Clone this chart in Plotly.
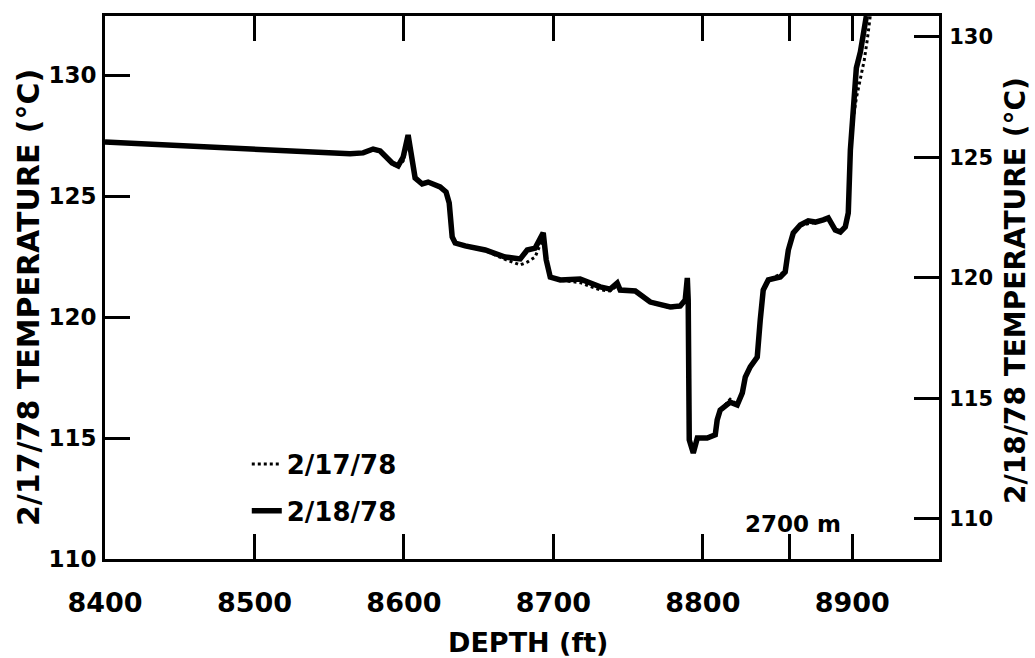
import plotly.graph_objects as go

# Depth ticks (ft); the extra tick marks 2700 m (= 8858.3 ft)
x_tick_vals = [8400, 8500, 8600, 8700, 8800, 8900]
x_tick_text = ["8400", "8500", "8600", "8700", "8800", "8900"]
metric_tick_ft = 8858.3
y_tick_vals = [110, 115, 120, 125, 130]

# 2/17/78 log (left axis, °C)
depth_0217 = [
    8400.0, 8485.7, 8564.0, 8572.7, 8579.4, 8584.1, 8592.1, 8596.1, 8599.5, 8602.8,
    8605.5, 8607.5, 8612.2, 8616.2, 8624.2, 8628.2, 8630.3, 8632.3, 8634.3, 8641.0,
    8654.4, 8667.7, 8677.8, 8682.5, 8687.8, 8693.2, 8695.2, 8697.9, 8704.6, 8717.9,
    8731.3, 8738.0, 8742.7, 8744.7, 8754.8, 8764.8, 8778.2, 8784.9, 8788.2, 8789.6,
    8790.2, 8790.9, 8793.6, 8796.3, 8802.9, 8808.3, 8809.6, 8811.6, 8818.3, 8823.0,
    8826.4, 8828.4, 8831.7, 8836.4, 8838.4, 8840.4, 8843.8, 8851.8, 8855.1, 8857.2,
    8860.5, 8865.2, 8870.5, 8875.2, 8880.6, 8883.9, 8888.6, 8892.0, 8895.3, 8897.3,
    8899.0, 8900.7, 8902.7, 8905.4, 8908.0, 8910.0, 8912.0,
]
temp_0217 = [
    127.23, 126.98, 126.74, 126.78, 126.90, 126.84, 126.33, 126.20, 126.45, 127.25,
    126.50, 125.74, 125.52, 125.56, 125.35, 125.14, 124.70, 123.30, 123.06, 122.92,
    122.74, 122.38, 122.15, 122.27, 122.48, 123.30, 122.35, 121.66, 121.52, 121.42,
    121.12, 121.08, 121.30, 121.10, 121.05, 120.60, 120.38, 120.42, 120.68, 121.40,
    120.70, 114.95, 114.40, 115.00, 115.02, 115.12, 115.72, 116.14, 116.60, 116.38,
    116.84, 117.50, 117.92, 118.30, 119.86, 121.10, 121.52, 121.78, 121.88, 122.75,
    123.45, 123.78, 123.84, 123.92, 124.00, 124.06, 123.60, 123.52, 123.72, 124.30,
    126.90, 128.22, 129.05, 129.79, 130.62, 131.45, 132.44,
]

# 2/18/78 log (right axis, °C)
depth_0218 = [
    8400.0, 8485.7, 8564.0, 8572.7, 8579.4, 8584.1, 8592.1, 8596.1, 8599.5, 8602.8,
    8605.5, 8607.5, 8612.2, 8616.2, 8624.2, 8628.2, 8630.3, 8632.3, 8634.3, 8641.0,
    8654.4, 8667.7, 8677.8, 8682.5, 8687.8, 8693.2, 8695.2, 8697.9, 8704.6, 8717.9,
    8731.3, 8738.0, 8742.7, 8744.7, 8754.8, 8764.8, 8778.2, 8784.9, 8788.2, 8789.6,
    8790.2, 8790.9, 8793.6, 8796.3, 8802.9, 8808.3, 8809.6, 8811.6, 8818.3, 8823.0,
    8826.4, 8828.4, 8831.7, 8836.4, 8838.4, 8840.4, 8843.8, 8851.8, 8855.1, 8857.2,
    8860.5, 8865.2, 8870.5, 8875.2, 8880.6, 8883.9, 8888.6, 8892.0, 8895.3, 8897.3,
    8898.7, 8900.7, 8902.7, 8905.4, 8907.4, 8909.4,
]
temp_0218 = [
    125.64, 125.39, 125.15, 125.19, 125.35, 125.27, 124.77, 124.65, 125.02, 125.93,
    124.90, 124.15, 123.90, 123.98, 123.78, 123.57, 123.11, 121.70, 121.45, 121.33,
    121.16, 120.87, 120.79, 121.16, 121.24, 121.87, 120.75, 120.04, 119.92, 119.96,
    119.63, 119.54, 119.79, 119.50, 119.46, 119.00, 118.80, 118.84, 119.09, 120.00,
    119.09, 113.28, 112.74, 113.36, 113.36, 113.49, 114.11, 114.52, 114.85, 114.73,
    115.23, 115.89, 116.31, 116.72, 118.26, 119.50, 119.92, 120.04, 120.25, 121.16,
    121.87, 122.20, 122.37, 122.32, 122.41, 122.49, 121.99, 121.91, 122.12, 122.70,
    125.31, 127.39, 128.71, 129.38, 130.08, 130.87,
]

FONT = "DejaVu Sans"
INK = "black"

fig = go.Figure()
fig.add_trace(go.Scatter(
    x=depth_0217, y=temp_0217, mode="lines", name="2/17/78", yaxis="y",
    line=dict(color=INK, width=3, dash="dot"), legendgroup="a",
))
fig.add_trace(go.Scatter(
    x=depth_0218, y=temp_0218, mode="lines", name="2/18/78", yaxis="y2",
    line=dict(color=INK, width=5.5), legendgroup="b",
))

axis_common = dict(
    showline=True, linewidth=3, linecolor=INK,
    ticks="inside", ticklen=25, tickwidth=3, tickcolor=INK,
    showgrid=False, zeroline=False,
)

fig.update_layout(
    width=1035, height=658,
    margin=dict(l=105, r=96, t=16, b=99),
    paper_bgcolor="white", plot_bgcolor="white",
    font=dict(family=FONT, color=INK, weight="bold"),
    xaxis=dict(
        range=[8400, 8958],
        tickvals=x_tick_vals + [metric_tick_ft],
        ticktext=x_tick_text + [""],
        mirror="ticks",
        tickfont=dict(family=FONT, size=27, weight="bold"),
        ticklabelstandoff=18,
        **axis_common,
    ),
    yaxis=dict(
        range=[110, 132.44],
        tickvals=y_tick_vals,
        tickfont=dict(family=FONT, size=23, weight="bold"),
        ticklabelstandoff=1,
        **axis_common,
    ),
    yaxis2=dict(
        range=[108.34, 130.87],
        tickvals=y_tick_vals,
        overlaying="y", side="right",
        tickfont=dict(family=FONT, size=21, weight="bold"),
        ticklabelstandoff=3,
        **axis_common,
    ),
    showlegend=True,
    legend=dict(
        x=0.17, y=0.218, xanchor="left", yanchor="top",
        bgcolor="rgba(0,0,0,0)", borderwidth=0,
        font=dict(family=FONT, size=26, weight="bold"),
        tracegroupgap=10, traceorder="grouped",
    ),
    annotations=[
        dict(text="DEPTH (ft)", xref="paper", yref="paper", x=0.507, y=-0.154,
             xanchor="center", yanchor="middle", showarrow=False,
             font=dict(family=FONT, size=27, weight="bold")),
        dict(text="2/17/78 TEMPERATURE (°C)", xref="paper", yref="paper",
             x=-0.0911, y=0.4807, textangle=-90, xanchor="center", yanchor="middle",
             showarrow=False, font=dict(family=FONT, size=30, weight="bold")),
        dict(text="2/18/78 TEMPERATURE (°C)", xref="paper", yref="paper",
             x=1.0923, y=0.4954, textangle=-90, xanchor="center", yanchor="middle",
             showarrow=False, font=dict(family=FONT, size=28, weight="bold")),
        dict(text="2700 m", xref="x", yref="paper", x=8860, y=0.0645,
             xanchor="center", yanchor="middle", showarrow=False,
             font=dict(family=FONT, size=23, weight="bold")),
    ],
)

fig.write_html("out.html")
